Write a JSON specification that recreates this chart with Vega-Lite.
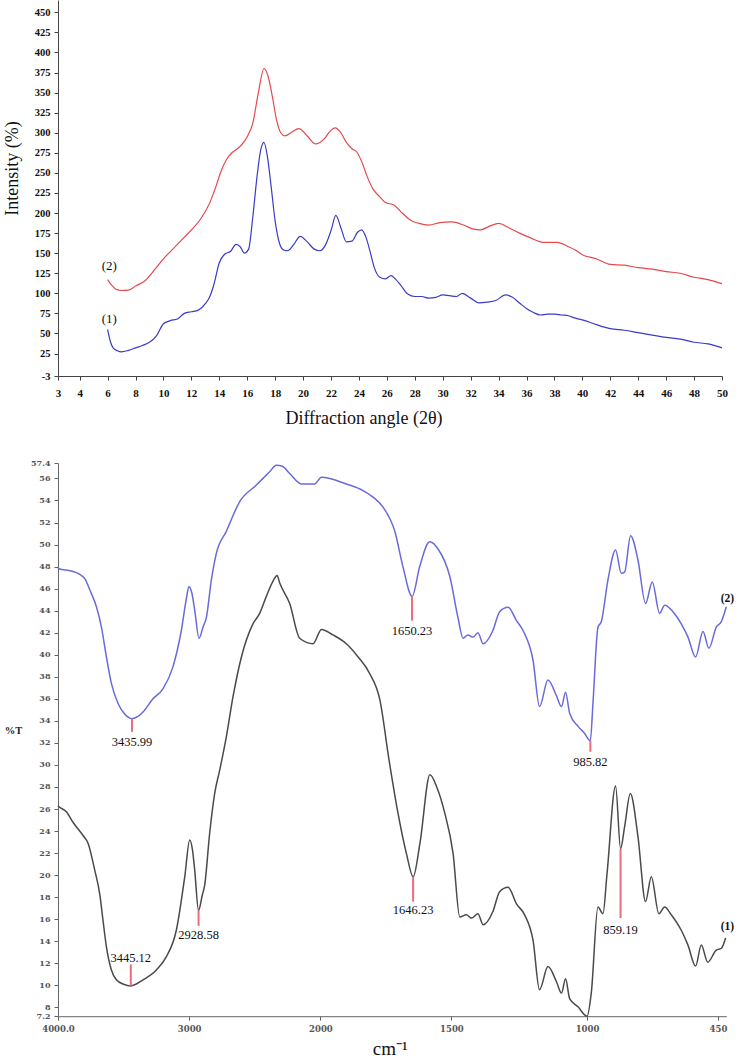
{
  "$schema": "https://vega.github.io/schema/vega-lite/v6.json",
  "padding": {"left": 3, "top": 0, "right": 0, "bottom": 0},
  "background": "white",
  "bounds": "flush",
  "spacing": 87,
  "resolve": {"scale": {"color": "independent"}},
  "config": {"view": {"stroke": null}, "axis": {"grid": false, "labelOverlap": false, "labelFlush": false, "labelBound": false, "tickCount": 100}},
  "datasets": {
    "xrd": [
      {"series":"(1)","angle":6,"intensity":55},{"series":"(1)","angle":6.2,"intensity":40},{"series":"(1)","angle":6.4,"intensity":32},{"series":"(1)","angle":6.7,"intensity":28.5},{"series":"(1)","angle":7,"intensity":27},{"series":"(1)","angle":7.5,"intensity":29},{"series":"(1)","angle":8,"intensity":32},{"series":"(1)","angle":8.5,"intensity":35},{"series":"(1)","angle":9,"intensity":39},{"series":"(1)","angle":9.5,"intensity":47},{"series":"(1)","angle":10,"intensity":62},{"series":"(1)","angle":10.5,"intensity":66},{"series":"(1)","angle":11,"intensity":68},{"series":"(1)","angle":11.5,"intensity":75},{"series":"(1)","angle":12,"intensity":77},{"series":"(1)","angle":12.5,"intensity":79},{"series":"(1)","angle":13,"intensity":87},{"series":"(1)","angle":13.3,"intensity":95},{"series":"(1)","angle":13.6,"intensity":110},{"series":"(1)","angle":14,"intensity":138},{"series":"(1)","angle":14.4,"intensity":149},{"series":"(1)","angle":14.8,"intensity":152},{"series":"(1)","angle":15.2,"intensity":161},{"series":"(1)","angle":15.5,"intensity":158},{"series":"(1)","angle":15.8,"intensity":150},{"series":"(1)","angle":16.1,"intensity":155},{"series":"(1)","angle":16.4,"intensity":195},{"series":"(1)","angle":16.7,"intensity":245},{"series":"(1)","angle":16.95,"intensity":277},{"series":"(1)","angle":17.2,"intensity":288},{"series":"(1)","angle":17.45,"intensity":270},{"series":"(1)","angle":17.7,"intensity":235},{"series":"(1)","angle":18,"intensity":190},{"series":"(1)","angle":18.3,"intensity":163},{"series":"(1)","angle":18.6,"intensity":154},{"series":"(1)","angle":18.9,"intensity":153},{"series":"(1)","angle":19.3,"intensity":160},{"series":"(1)","angle":19.8,"intensity":171},{"series":"(1)","angle":20.3,"intensity":164},{"series":"(1)","angle":20.8,"intensity":155},{"series":"(1)","angle":21.2,"intensity":153},{"series":"(1)","angle":21.6,"intensity":160},{"series":"(1)","angle":22,"intensity":178},{"series":"(1)","angle":22.35,"intensity":197},{"series":"(1)","angle":22.7,"intensity":182},{"series":"(1)","angle":23.1,"intensity":164},{"series":"(1)","angle":23.5,"intensity":165},{"series":"(1)","angle":23.9,"intensity":176},{"series":"(1)","angle":24.2,"intensity":179},{"series":"(1)","angle":24.5,"intensity":170},{"series":"(1)","angle":24.8,"intensity":152},{"series":"(1)","angle":25.1,"intensity":132},{"series":"(1)","angle":25.5,"intensity":120},{"series":"(1)","angle":25.9,"intensity":118},{"series":"(1)","angle":26.3,"intensity":122},{"series":"(1)","angle":26.6,"intensity":118},{"series":"(1)","angle":27,"intensity":110},{"series":"(1)","angle":27.5,"intensity":99},{"series":"(1)","angle":28,"intensity":96},{"series":"(1)","angle":28.5,"intensity":96},{"series":"(1)","angle":29,"intensity":94},{"series":"(1)","angle":29.5,"intensity":95},{"series":"(1)","angle":30,"intensity":98},{"series":"(1)","angle":30.5,"intensity":97},{"series":"(1)","angle":31,"intensity":96},{"series":"(1)","angle":31.4,"intensity":100},{"series":"(1)","angle":32,"intensity":94},{"series":"(1)","angle":32.6,"intensity":88},{"series":"(1)","angle":33.2,"intensity":89},{"series":"(1)","angle":33.8,"intensity":91},{"series":"(1)","angle":34.5,"intensity":98},{"series":"(1)","angle":35,"intensity":95},{"series":"(1)","angle":35.5,"intensity":88},{"series":"(1)","angle":36,"intensity":81},{"series":"(1)","angle":36.5,"intensity":76},{"series":"(1)","angle":37,"intensity":73},{"series":"(1)","angle":37.5,"intensity":74},{"series":"(1)","angle":38,"intensity":74},{"series":"(1)","angle":38.5,"intensity":73},{"series":"(1)","angle":39,"intensity":72},{"series":"(1)","angle":39.5,"intensity":69},{"series":"(1)","angle":40,"intensity":67},{"series":"(1)","angle":41,"intensity":61},{"series":"(1)","angle":42,"intensity":56},{"series":"(1)","angle":43,"intensity":54},{"series":"(1)","angle":44,"intensity":51},{"series":"(1)","angle":45,"intensity":48},{"series":"(1)","angle":46,"intensity":45},{"series":"(1)","angle":47,"intensity":43},{"series":"(1)","angle":48,"intensity":39},{"series":"(1)","angle":49,"intensity":37},{"series":"(1)","angle":50,"intensity":32},
      {"series":"(2)","angle":6,"intensity":117},{"series":"(2)","angle":6.3,"intensity":110},{"series":"(2)","angle":6.6,"intensity":105},{"series":"(2)","angle":7,"intensity":103.5},{"series":"(2)","angle":7.5,"intensity":104},{"series":"(2)","angle":8,"intensity":109},{"series":"(2)","angle":8.7,"intensity":116},{"series":"(2)","angle":9.4,"intensity":130},{"series":"(2)","angle":10,"intensity":143},{"series":"(2)","angle":10.5,"intensity":152},{"series":"(2)","angle":11,"intensity":161},{"series":"(2)","angle":11.5,"intensity":170},{"series":"(2)","angle":12,"intensity":179},{"series":"(2)","angle":12.6,"intensity":191},{"series":"(2)","angle":13.3,"intensity":212},{"series":"(2)","angle":13.8,"intensity":235},{"series":"(2)","angle":14.1,"intensity":251},{"series":"(2)","angle":14.5,"intensity":266},{"series":"(2)","angle":14.9,"intensity":275},{"series":"(2)","angle":15.3,"intensity":280},{"series":"(2)","angle":15.6,"intensity":285},{"series":"(2)","angle":16,"intensity":295},{"series":"(2)","angle":16.4,"intensity":312},{"series":"(2)","angle":16.8,"intensity":350},{"series":"(2)","angle":17.2,"intensity":380},{"series":"(2)","angle":17.5,"intensity":370},{"series":"(2)","angle":17.8,"intensity":345},{"series":"(2)","angle":18.1,"intensity":316},{"series":"(2)","angle":18.4,"intensity":300},{"series":"(2)","angle":18.7,"intensity":296},{"series":"(2)","angle":19.2,"intensity":301},{"series":"(2)","angle":19.7,"intensity":305},{"series":"(2)","angle":20.3,"intensity":296},{"series":"(2)","angle":20.9,"intensity":286},{"series":"(2)","angle":21.5,"intensity":292},{"series":"(2)","angle":22,"intensity":303},{"series":"(2)","angle":22.3,"intensity":306},{"series":"(2)","angle":22.7,"intensity":300},{"series":"(2)","angle":23.1,"intensity":288},{"series":"(2)","angle":23.5,"intensity":280},{"series":"(2)","angle":23.85,"intensity":276},{"series":"(2)","angle":24.2,"intensity":264},{"series":"(2)","angle":24.6,"intensity":245},{"series":"(2)","angle":25,"intensity":230},{"series":"(2)","angle":25.5,"intensity":220},{"series":"(2)","angle":25.9,"intensity":213},{"series":"(2)","angle":26.5,"intensity":210},{"series":"(2)","angle":27.1,"intensity":200},{"series":"(2)","angle":27.7,"intensity":191},{"series":"(2)","angle":28.3,"intensity":187},{"series":"(2)","angle":29,"intensity":185},{"series":"(2)","angle":29.8,"intensity":188},{"series":"(2)","angle":30.65,"intensity":189},{"series":"(2)","angle":31.5,"intensity":185},{"series":"(2)","angle":32.2,"intensity":180},{"series":"(2)","angle":32.7,"intensity":179},{"series":"(2)","angle":33.4,"intensity":184},{"series":"(2)","angle":34,"intensity":187},{"series":"(2)","angle":34.7,"intensity":182},{"series":"(2)","angle":35.5,"intensity":175},{"series":"(2)","angle":36.3,"intensity":169},{"series":"(2)","angle":37.2,"intensity":163.5},{"series":"(2)","angle":38.2,"intensity":163.5},{"series":"(2)","angle":39,"intensity":158},{"series":"(2)","angle":39.5,"intensity":154},{"series":"(2)","angle":40,"intensity":148},{"series":"(2)","angle":41,"intensity":143},{"series":"(2)","angle":42,"intensity":136},{"series":"(2)","angle":43,"intensity":135},{"series":"(2)","angle":44,"intensity":132},{"series":"(2)","angle":45,"intensity":130},{"series":"(2)","angle":46,"intensity":127},{"series":"(2)","angle":47,"intensity":125},{"series":"(2)","angle":48,"intensity":120},{"series":"(2)","angle":49,"intensity":117},{"series":"(2)","angle":50,"intensity":112}
    ],
    "xrd_labels": [
      {"label":"(2)","angle":6.12,"intensity":134},
      {"label":"(1)","angle":6.12,"intensity":68}
    ],
    "ftir": [
      {"series":"(2)","wn":4000,"T":47.9},{"series":"(2)","wn":3992,"T":47.8},{"series":"(2)","wn":3898,"T":47.6},{"series":"(2)","wn":3835,"T":47.3},{"series":"(2)","wn":3790,"T":46.8},{"series":"(2)","wn":3758,"T":45.9},{"series":"(2)","wn":3707,"T":44.35},{"series":"(2)","wn":3669,"T":42.5},{"series":"(2)","wn":3631,"T":39.8},{"series":"(2)","wn":3593,"T":37.4},{"series":"(2)","wn":3543,"T":35.6},{"series":"(2)","wn":3490,"T":34.6},{"series":"(2)","wn":3436,"T":34.2},{"series":"(2)","wn":3390,"T":34.4},{"series":"(2)","wn":3352,"T":34.8},{"series":"(2)","wn":3276,"T":36.0},{"series":"(2)","wn":3200,"T":36.9},{"series":"(2)","wn":3124,"T":38.9},{"series":"(2)","wn":3060,"T":42.2},{"series":"(2)","wn":3020,"T":45.2},{"series":"(2)","wn":3002,"T":46.2},{"series":"(2)","wn":2980,"T":45.6},{"series":"(2)","wn":2958,"T":44.05},{"series":"(2)","wn":2925,"T":41.5},{"series":"(2)","wn":2895,"T":42.5},{"series":"(2)","wn":2869,"T":43.4},{"series":"(2)","wn":2831,"T":46.8},{"series":"(2)","wn":2793,"T":49.2},{"series":"(2)","wn":2717,"T":51.2},{"series":"(2)","wn":2615,"T":53.9},{"series":"(2)","wn":2488,"T":55.4},{"series":"(2)","wn":2387,"T":56.6},{"series":"(2)","wn":2336,"T":57.2},{"series":"(2)","wn":2290,"T":57.1},{"series":"(2)","wn":2234,"T":56.45},{"series":"(2)","wn":2145,"T":55.5},{"series":"(2)","wn":2044,"T":55.5},{"series":"(2)","wn":1996,"T":56.1},{"series":"(2)","wn":1901,"T":55.5},{"series":"(2)","wn":1837,"T":54.9},{"series":"(2)","wn":1799,"T":54.3},{"series":"(2)","wn":1761,"T":53.4},{"series":"(2)","wn":1716,"T":51.2},{"series":"(2)","wn":1685,"T":48.0},{"series":"(2)","wn":1650,"T":45.3},{"series":"(2)","wn":1621,"T":48.0},{"series":"(2)","wn":1583,"T":50.25},{"series":"(2)","wn":1551,"T":49.6},{"series":"(2)","wn":1506,"T":47.1},{"series":"(2)","wn":1476,"T":43.4},{"series":"(2)","wn":1457,"T":41.5},{"series":"(2)","wn":1439,"T":41.8},{"series":"(2)","wn":1420,"T":41.6},{"series":"(2)","wn":1402,"T":42.0},{"series":"(2)","wn":1383,"T":41.0},{"series":"(2)","wn":1347,"T":42.2},{"series":"(2)","wn":1322,"T":43.9},{"series":"(2)","wn":1291,"T":44.3},{"series":"(2)","wn":1260,"T":43.1},{"series":"(2)","wn":1236,"T":42.2},{"series":"(2)","wn":1199,"T":39.5},{"series":"(2)","wn":1175,"T":35.3},{"series":"(2)","wn":1144,"T":37.7},{"series":"(2)","wn":1113,"T":36.3},{"series":"(2)","wn":1094,"T":35.3},{"series":"(2)","wn":1079,"T":36.6},{"series":"(2)","wn":1064,"T":34.7},{"series":"(2)","wn":1033,"T":33.5},{"series":"(2)","wn":1010,"T":32.9},{"series":"(2)","wn":986,"T":32.2},{"series":"(2)","wn":975,"T":35.6},{"series":"(2)","wn":954,"T":42.5},{"series":"(2)","wn":940,"T":43.0},{"series":"(2)","wn":912,"T":46.8},{"series":"(2)","wn":880,"T":49.5},{"series":"(2)","wn":856,"T":47.4},{"series":"(2)","wn":842,"T":47.5},{"series":"(2)","wn":817,"T":50.8},{"series":"(2)","wn":786,"T":48.6},{"series":"(2)","wn":754,"T":44.65},{"series":"(2)","wn":726,"T":46.6},{"series":"(2)","wn":695,"T":43.75},{"series":"(2)","wn":674,"T":44.5},{"series":"(2)","wn":639,"T":43.9},{"series":"(2)","wn":604,"T":42.8},{"series":"(2)","wn":576,"T":41.6},{"series":"(2)","wn":544,"T":39.8},{"series":"(2)","wn":513,"T":42.1},{"series":"(2)","wn":488,"T":40.6},{"series":"(2)","wn":457,"T":42.5},{"series":"(2)","wn":436,"T":43.0},{"series":"(2)","wn":415,"T":44.35},
      {"series":"(1)","wn":4000,"T":26.3},{"series":"(1)","wn":3992,"T":26.2},{"series":"(1)","wn":3936,"T":25.75},{"series":"(1)","wn":3886,"T":24.8},{"series":"(1)","wn":3809,"T":23.6},{"series":"(1)","wn":3771,"T":22.9},{"series":"(1)","wn":3720,"T":20.45},{"series":"(1)","wn":3682,"T":18.3},{"series":"(1)","wn":3657,"T":15.9},{"series":"(1)","wn":3631,"T":13.5},{"series":"(1)","wn":3593,"T":11.4},{"series":"(1)","wn":3555,"T":10.5},{"series":"(1)","wn":3500,"T":10.1},{"series":"(1)","wn":3445,"T":9.95},{"series":"(1)","wn":3352,"T":10.5},{"series":"(1)","wn":3250,"T":11.4},{"series":"(1)","wn":3174,"T":12.6},{"series":"(1)","wn":3098,"T":15.0},{"series":"(1)","wn":3034,"T":19.85},{"series":"(1)","wn":2996,"T":23.2},{"series":"(1)","wn":2975,"T":22.3},{"series":"(1)","wn":2958,"T":20.45},{"series":"(1)","wn":2929,"T":16.8},{"series":"(1)","wn":2900,"T":18.2},{"series":"(1)","wn":2882,"T":19.1},{"series":"(1)","wn":2844,"T":23.8},{"series":"(1)","wn":2806,"T":27.4},{"series":"(1)","wn":2768,"T":29.5},{"series":"(1)","wn":2717,"T":32.55},{"series":"(1)","wn":2666,"T":36.2},{"series":"(1)","wn":2602,"T":39.8},{"series":"(1)","wn":2514,"T":42.8},{"series":"(1)","wn":2463,"T":43.75},{"series":"(1)","wn":2412,"T":45.3},{"series":"(1)","wn":2356,"T":46.8},{"series":"(1)","wn":2330,"T":47.2},{"series":"(1)","wn":2310,"T":46.5},{"series":"(1)","wn":2234,"T":44.65},{"series":"(1)","wn":2158,"T":41.5},{"series":"(1)","wn":2056,"T":41.0},{"series":"(1)","wn":1996,"T":42.3},{"series":"(1)","wn":1952,"T":41.8},{"series":"(1)","wn":1901,"T":41.0},{"series":"(1)","wn":1856,"T":39.8},{"series":"(1)","wn":1812,"T":38.3},{"series":"(1)","wn":1773,"T":35.9},{"series":"(1)","wn":1738,"T":30.45},{"series":"(1)","wn":1706,"T":25.9},{"series":"(1)","wn":1672,"T":22.0},{"series":"(1)","wn":1646,"T":19.85},{"series":"(1)","wn":1620,"T":22.9},{"series":"(1)","wn":1582,"T":29.1},{"series":"(1)","wn":1556,"T":28.0},{"series":"(1)","wn":1525,"T":25.6},{"series":"(1)","wn":1494,"T":22.0},{"series":"(1)","wn":1469,"T":16.2},{"series":"(1)","wn":1445,"T":16.4},{"series":"(1)","wn":1426,"T":16.1},{"series":"(1)","wn":1402,"T":16.5},{"series":"(1)","wn":1383,"T":15.5},{"series":"(1)","wn":1347,"T":16.7},{"series":"(1)","wn":1322,"T":18.5},{"series":"(1)","wn":1291,"T":18.9},{"series":"(1)","wn":1260,"T":17.4},{"series":"(1)","wn":1230,"T":16.4},{"series":"(1)","wn":1199,"T":14.1},{"series":"(1)","wn":1175,"T":9.6},{"series":"(1)","wn":1144,"T":11.7},{"series":"(1)","wn":1113,"T":10.35},{"series":"(1)","wn":1094,"T":9.3},{"series":"(1)","wn":1079,"T":10.6},{"series":"(1)","wn":1064,"T":8.8},{"series":"(1)","wn":1033,"T":8.05},{"series":"(1)","wn":1000,"T":7.2},{"series":"(1)","wn":982,"T":9.3},{"series":"(1)","wn":954,"T":17.1},{"series":"(1)","wn":933,"T":16.5},{"series":"(1)","wn":916,"T":20.1},{"series":"(1)","wn":880,"T":28.1},{"series":"(1)","wn":859,"T":22.4},{"series":"(1)","wn":842,"T":24.4},{"series":"(1)","wn":818,"T":27.4},{"series":"(1)","wn":786,"T":23.5},{"series":"(1)","wn":754,"T":17.6},{"series":"(1)","wn":730,"T":19.85},{"series":"(1)","wn":698,"T":16.5},{"series":"(1)","wn":674,"T":17.1},{"series":"(1)","wn":646,"T":16.4},{"series":"(1)","wn":604,"T":15.0},{"series":"(1)","wn":576,"T":13.65},{"series":"(1)","wn":544,"T":11.75},{"series":"(1)","wn":520,"T":13.65},{"series":"(1)","wn":493,"T":12.1},{"series":"(1)","wn":457,"T":13.2},{"series":"(1)","wn":436,"T":13.35},{"series":"(1)","wn":418,"T":14.3}
    ],
    "peaks": [
      {"wn":3435.99,"y1":34.2,"y2":33.0,"ly":32.1,"label":"3435.99"},
      {"wn":1650.23,"y1":45.3,"y2":43.1,"ly":42.2,"label":"1650.23"},
      {"wn":985.82,"y1":32.2,"y2":31.2,"ly":30.3,"label":"985.82"},
      {"wn":3445.12,"y1":9.95,"y2":11.9,"ly":12.5,"label":"3445.12"},
      {"wn":2928.58,"y1":16.8,"y2":15.4,"ly":14.6,"label":"2928.58"},
      {"wn":1646.23,"y1":19.85,"y2":17.6,"ly":16.8,"label":"1646.23"},
      {"wn":859.19,"y1":22.4,"y2":16.1,"ly":15.0,"label":"859.19"}
    ],
    "ftir_labels": [
      {"label":"(2)","wn":410,"T":45.1},
      {"label":"(1)","wn":410,"T":15.3}
    ]
  },
  "vconcat": [
    {
      "width": 664,
      "height": 376,
      "layer": [
        {
          "data": {"name": "xrd"},
          "mark": {"type": "line", "interpolate": "monotone", "strokeWidth": 1.2},
          "encoding": {
            "x": {
              "field": "angle", "type": "quantitative",
              "scale": {"domain": [2.45, 50], "nice": false, "zero": false},
              "axis": {
                "values": [2.45, 4, 6, 8, 10, 12, 14, 16, 18, 20, 22, 24, 26, 28, 30, 32, 34, 36, 38, 40, 42, 44, 46, 48, 50],
                "tickCount": 100,
                "labelExpr": "datum.value < 3 ? '3' : '' + datum.value",
                "labelOverlap": false, "labelFlush": false,
                "labelFont": "Liberation Serif", "labelFontSize": 11, "labelFontWeight": "bold", "labelColor": "#111",
                "labelPadding": 7, "tickSize": 4, "tickColor": "#444", "domainColor": "#444",
                "title": "Diffraction angle (2θ)", "titleFont": "Liberation Serif", "titleFontSize": 18, "titleFontWeight": "normal", "titleColor": "#111",
                "titleX": 305.5, "titleY": 47.5, "titleAlign": "center", "titleBaseline": "alphabetic"
              }
            },
            "y": {
              "field": "intensity", "type": "quantitative",
              "scale": {"domain": [-3, 465.3], "nice": false, "zero": false},
              "axis": {
                "values": [-3, 25, 50, 75, 100, 125, 150, 175, 200, 225, 250, 275, 300, 325, 350, 375, 400, 425, 450],
                "tickCount": 100,
                "labelExpr": "'' + datum.value",
                "labelOverlap": false, "labelFlush": false,
                "labelFont": "Liberation Serif", "labelFontSize": 10.5, "labelFontWeight": "bold", "labelColor": "#111",
                "labelPadding": 4, "tickSize": 4, "tickColor": "#444", "domainColor": "#444",
                "title": "Intensity (%)", "titleFont": "Liberation Serif", "titleFontSize": 18, "titleFontWeight": "normal", "titleColor": "#111",
                "titleX": -41, "titleY": 168, "titleAngle": -90, "titleAlign": "center", "titleBaseline": "alphabetic"
              }
            },
            "color": {"field": "series", "type": "nominal", "scale": {"domain": ["(1)", "(2)"], "range": ["#3b3bc6", "#e6484d"]}, "legend": null}
          }
        },
        {
          "data": {"name": "xrd_labels"},
          "mark": {"type": "text", "font": "Liberation Serif", "fontSize": 13, "color": "#111", "baseline": "middle"},
          "encoding": {
            "x": {"field": "angle", "type": "quantitative"},
            "y": {"field": "intensity", "type": "quantitative"},
            "text": {"field": "label"}
          }
        }
      ]
    },
    {
      "width": 668.3,
      "height": 553.2,
      "layer": [
        {
          "data": {"name": "ftir"},
          "mark": {"type": "line", "interpolate": "monotone", "strokeWidth": 1.5},
          "encoding": {
            "x": {
              "field": "wn", "type": "quantitative",
              "scale": {"domain": [4000, 2000, 1500, 1000, 415], "range": [0, 262.4, 393.4, 529, 668.3], "nice": false, "zero": false},
              "axis": {
                "values": [4000, 3000, 2000, 1500, 1000, 450],
                "tickCount": 100,
                "labelExpr": "datum.value == 4000 ? '4000.0' : '' + datum.value",
                "labelOverlap": false, "labelFlush": false,
                "labelFont": "DejaVu Serif", "labelFontSize": 8.5, "labelFontWeight": "bold", "labelColor": "#555",
                "labelPadding": 4, "tickSize": 4, "tickColor": "#666", "domainColor": "#666",
                "title": "cm⁻¹", "titleFont": "Liberation Serif", "titleFontSize": 19, "titleFontWeight": "normal", "titleColor": "#111",
                "titleX": 331.7, "titleY": 38.5, "titleAlign": "center", "titleBaseline": "alphabetic"
              }
            },
            "y": {
              "field": "T", "type": "quantitative",
              "scale": {"domain": [7.2, 57.4], "nice": false, "zero": false},
              "axis": {
                "values": [7.2, 8, 10, 12, 14, 16, 18, 20, 22, 24, 26, 28, 30, 32, 34, 36, 38, 40, 42, 44, 46, 48, 50, 52, 54, 56, 57.4],
                "tickCount": 100,
                "labelExpr": "'' + datum.value",
                "labelOverlap": false, "labelFlush": false,
                "labelFont": "DejaVu Serif", "labelFontSize": 8, "labelFontWeight": "bold", "labelColor": "#555",
                "labelPadding": 4, "tickSize": 4, "tickColor": "#666", "domainColor": "#666",
                "title": "%T", "titleFont": "Liberation Serif", "titleFontSize": 10.5, "titleFontWeight": "bold", "titleColor": "#222",
                "titleX": -45, "titleY": 267, "titleAngle": 0, "titleAlign": "center", "titleBaseline": "middle"
              }
            },
            "order": {"field": "wn", "sort": "descending"},
            "color": {"field": "series", "type": "nominal", "scale": {"domain": ["(1)", "(2)"], "range": ["#4a4a4a", "#6a6ade"]}, "legend": null}
          }
        },
        {
          "data": {"name": "peaks"},
          "mark": {"type": "rule", "color": "#ee6b78", "strokeWidth": 2},
          "encoding": {
            "x": {"field": "wn", "type": "quantitative"},
            "y": {"field": "y1", "type": "quantitative"},
            "y2": {"field": "y2"}
          }
        },
        {
          "data": {"name": "peaks"},
          "mark": {"type": "text", "font": "Liberation Serif", "fontSize": 12.5, "color": "#111", "baseline": "middle"},
          "encoding": {
            "x": {"field": "wn", "type": "quantitative"},
            "y": {"field": "ly", "type": "quantitative"},
            "text": {"field": "label"}
          }
        },
        {
          "data": {"name": "ftir_labels"},
          "mark": {"type": "text", "font": "Liberation Serif", "fontSize": 11.5, "fontWeight": "bold", "color": "#111", "baseline": "middle"},
          "encoding": {
            "x": {"field": "wn", "type": "quantitative"},
            "y": {"field": "T", "type": "quantitative"},
            "text": {"field": "label"}
          }
        }
      ]
    }
  ]
}
